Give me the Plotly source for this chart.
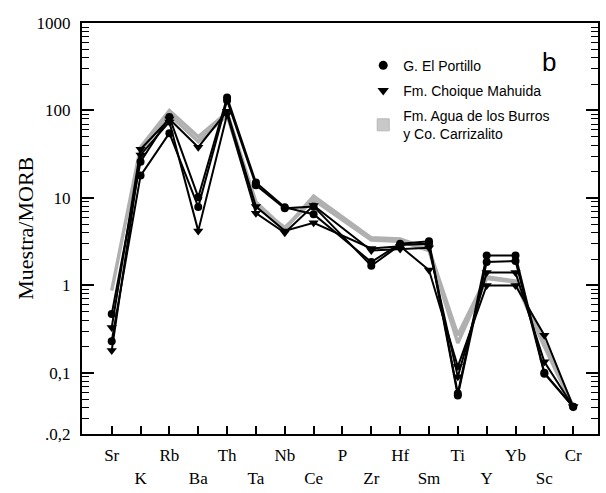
import plotly.graph_objects as go

elements = ["Sr", "K", "Rb", "Ba", "Th", "Ta", "Nb", "Ce", "P", "Zr",
            "Hf", "Sm", "Ti", "Y", "Yb", "Sc", "Cr"]

# G. El Portillo (circles)
portillo_1 = [0.47, 26, 84, 10.2, 141, 15, 7.8, 6.5, None, 1.85, 3.0, 3.2, 0.058, 2.2, 2.2, 0.10, 0.041]
portillo_2 = [0.23, 18, 55, 7.9, 130, 14, 7.6, 8.0, None, 1.68, 2.9, 3.0, 0.055, 1.85, 1.9, 0.098, 0.041]

# Fm. Choique Mahuida (down triangles)
choique_1 = [0.33, 36, 80, 38, 98, 8.0, 4.2, 5.2, None, 2.65, 2.8, 1.5, 0.118, 1.0, 1.0, 0.27, 0.041]
choique_2 = [0.18, 31, 74, 4.2, 90, 6.7, 4.0, 8.2, None, 2.5, 2.6, 2.7, 0.09, 1.4, 1.4, 0.134, 0.041]

# Fm. Agua de los Burros y Co. Carrizalito (grey)
burros_1 = [0.87, 38, 100, 50, 95, 9.0, 4.4, 10.5, None, 3.5, 3.4, 2.6, 0.27, 1.25, 1.12, 0.22, 0.041]
burros_2 = [None, 34, 90, 44, 88, 8.0, 4.6, 9.5, None, 3.3, 3.2, 2.5, 0.22, 1.2, 1.1, 0.2, 0.041]

y_tickvals = [0.02, 0.1, 1, 10, 100, 1000]
y_ticktext = [".0,2", "0,1", "1", "10", "100", "1000"]

x_idx = list(range(len(elements)))
x_ticktext = [e if i % 2 == 0 else "<br>" + e for i, e in enumerate(elements)]

fig = go.Figure()

grey = "#b0b0b0"
for ys in (burros_1, burros_2):
    fig.add_trace(go.Scatter(x=x_idx, y=ys, mode="lines", connectgaps=True,
                             line=dict(color=grey, width=3.5), showlegend=False,
                             hoverinfo="skip"))
for ys in (choique_1, choique_2):
    fig.add_trace(go.Scatter(x=x_idx, y=ys, mode="lines+markers", connectgaps=True,
                             line=dict(color="black", width=2),
                             marker=dict(symbol="triangle-down", size=9, color="black"),
                             showlegend=False))
for ys in (portillo_1, portillo_2):
    fig.add_trace(go.Scatter(x=x_idx, y=ys, mode="lines+markers", connectgaps=True,
                             line=dict(color="black", width=2),
                             marker=dict(symbol="circle", size=8, color="black"),
                             showlegend=False))

# legend entries
fig.add_trace(go.Scatter(x=[None], y=[None], mode="markers", name="G. El Portillo",
                         legendgroup="a", marker=dict(symbol="circle", size=9, color="black")))
fig.add_trace(go.Scatter(x=[None], y=[None], mode="markers", name="Fm. Choique Mahuida",
                         legendgroup="b", marker=dict(symbol="triangle-down", size=10, color="black")))
fig.add_trace(go.Scatter(x=[None], y=[None], mode="markers",
                         name="Fm. Agua de los Burros<br>y Co. Carrizalito",
                         legendgroup="c", marker=dict(symbol="square", size=12, color="#c8c8c8",
                                                      line=dict(color="#b8b8b8", width=1))))

fig.update_layout(
    width=606, height=493,
    margin=dict(l=82, r=8, t=23, b=59),
    paper_bgcolor="white", plot_bgcolor="white",
    font=dict(family="Liberation Serif", color="black", size=16),
    legend=dict(x=0.545, y=0.935, xanchor="left", yanchor="top",
                bgcolor="rgba(0,0,0,0)", tracegroupgap=4,
                font=dict(family="Liberation Sans", size=14, color="black")),
    annotations=[
        dict(text="b", x=0.905, y=0.905, xref="paper", yref="paper",
             xanchor="center", yanchor="middle",
             showarrow=False, font=dict(family="Liberation Sans", size=26, color="black")),
        dict(text="Muestra/MORB", x=-0.110, y=0.5, xref="paper", yref="paper",
             xanchor="center", yanchor="middle", textangle=-90,
             showarrow=False, font=dict(family="Liberation Serif", size=22, color="black")),
    ],
)

fig.update_xaxes(
    range=[-1.03, 16.86], tickvals=x_idx, ticktext=x_ticktext,
    ticks="inside", ticklen=8, tickwidth=1.5, tickcolor="black",
    showline=True, linecolor="black", linewidth=2, mirror=True,
    showgrid=False, zeroline=False, ticklabelstandoff=5, automargin=False,
    tickfont=dict(family="Liberation Serif", size=17),
)
fig.update_yaxes(
    type="log", range=[-1.699, 3.0], tickvals=y_tickvals, ticktext=y_ticktext,
    ticks="inside", ticklen=12, tickwidth=1.5, tickcolor="black",
    minor=dict(ticks="inside", ticklen=7, tickwidth=1.2, tickcolor="black", dtick="D1", showgrid=False),
    showline=True, linecolor="black", linewidth=2, mirror="ticks",
    showgrid=False, zeroline=False, automargin=False,
    tickfont=dict(family="Liberation Serif", size=17),
    ticklabelstandoff=6,
)

fig.write_html("out.html")
